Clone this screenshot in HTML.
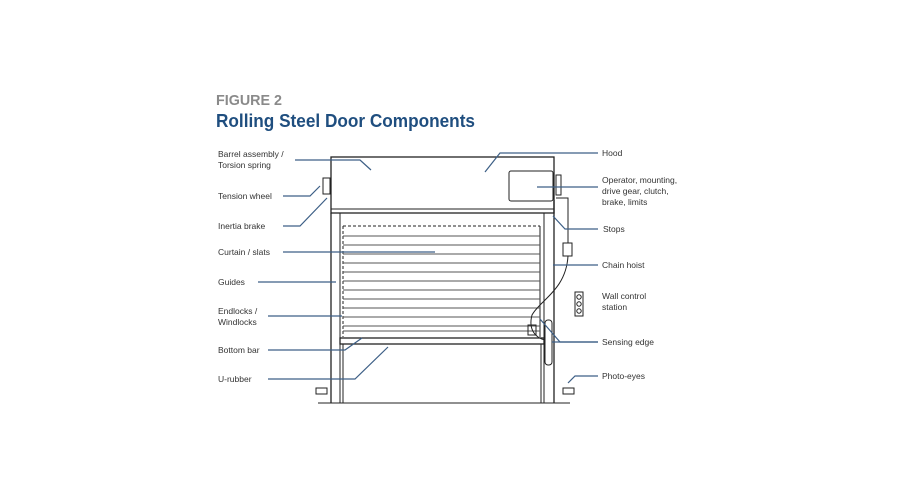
<!DOCTYPE html>
<html><head><meta charset="utf-8"><style>
html,body{margin:0;padding:0;background:#fff;}
svg{display:block}
text{font-family:"Liberation Sans",sans-serif;font-size:8.5px;fill:#333}
</style></head><body>
<svg width="900" height="500" viewBox="0 0 900 500" xmlns="http://www.w3.org/2000/svg">
<text x="216" y="105" textLength="66" lengthAdjust="spacingAndGlyphs" style="font-size:15px;font-weight:bold;fill:#8a8a8a">FIGURE 2</text>
<text x="216" y="127" textLength="259" lengthAdjust="spacingAndGlyphs" style="font-size:18px;font-weight:bold;fill:#1f4e7f">Rolling Steel Door Components</text>

<g fill="none" stroke="#222" stroke-width="1">
<rect x="331" y="157" width="223" height="56" stroke-width="1.3"/>
<line x1="331" y1="209" x2="554" y2="209"/>
<line x1="331" y1="213" x2="331" y2="403" stroke-width="1.3"/>
<line x1="340" y1="213" x2="340" y2="403"/>
<line x1="544" y1="213" x2="544" y2="403"/>
<line x1="554" y1="200" x2="554" y2="403" stroke-width="1.3"/>
<line x1="318" y1="403" x2="570" y2="403"/>
<line x1="343" y1="226" x2="540" y2="226" stroke-dasharray="3,2"/>
<line x1="343" y1="226" x2="343" y2="337" stroke-dasharray="3,2"/>
<line x1="540" y1="226" x2="540" y2="337"/>
<g stroke="#555">
<line x1="343" y1="236" x2="540" y2="236"/><line x1="343" y1="245" x2="540" y2="245"/>
<line x1="343" y1="254" x2="540" y2="254"/><line x1="343" y1="263" x2="540" y2="263"/>
<line x1="343" y1="272" x2="540" y2="272"/><line x1="343" y1="281" x2="540" y2="281"/>
<line x1="343" y1="290" x2="540" y2="290"/><line x1="343" y1="299" x2="540" y2="299"/>
<line x1="343" y1="308" x2="540" y2="308"/><line x1="343" y1="317" x2="540" y2="317"/>
<line x1="343" y1="326" x2="540" y2="326"/><line x1="343" y1="331" x2="540" y2="331"/>
</g>
<rect x="340" y="338" width="204" height="6" stroke-width="1.3"/>
<line x1="343" y1="344" x2="343" y2="403"/>
<line x1="541" y1="344" x2="541" y2="403"/>
<rect x="509" y="171" width="44" height="30" rx="2"/>
<rect x="556" y="175" width="5" height="20"/>
<rect x="323" y="178" width="7" height="16"/>
<path d="M556 198 H568 V243"/>
<rect x="563" y="243" width="9" height="13"/>
<path d="M568 256 C566 290 540 300 532 315 C528 330 536 338 545 340"/>
<rect x="545" y="320" width="7" height="45" rx="3"/>
<rect x="528" y="325" width="8" height="10"/>
<rect x="575" y="292" width="8" height="24"/>
<circle cx="579" cy="297" r="2.2"/><circle cx="579" cy="304" r="2.2"/><circle cx="579" cy="311" r="2.2"/>
<rect x="316" y="388" width="11" height="6"/>
<rect x="563" y="388" width="11" height="6"/>
</g>

<g fill="none" stroke="#3d5f86" stroke-width="1.2">
<path d="M295 160 H360 L371 170"/>
<path d="M598 153 H500 L485 172"/>
<path d="M283 196 H310 L320 186"/>
<path d="M283 226 H300 L327 198"/>
<path d="M283 252 H435"/>
<path d="M258 282 H336"/>
<path d="M268 316 H342"/>
<path d="M268 350 H345 L362 338"/>
<path d="M268 379 H355 L388 347"/>
<path d="M537 187 H598"/>
<path d="M598 229 H565 L553 216"/>
<path d="M598 265 H553"/>
<path d="M598 342 H560 L540 319"/>
<path d="M552 342 H598"/>
<path d="M598 376 H575 L568 383"/>
</g>

<text x="218" y="157">Barrel assembly /</text>
<text x="218" y="168">Torsion spring</text>
<text x="218" y="199">Tension wheel</text>
<text x="218" y="229">Inertia brake</text>
<text x="218" y="255">Curtain / slats</text>
<text x="218" y="285">Guides</text>
<text x="218" y="314">Endlocks /</text>
<text x="218" y="325">Windlocks</text>
<text x="218" y="353">Bottom bar</text>
<text x="218" y="382">U-rubber</text>
<text x="602" y="156">Hood</text>
<text x="602" y="183">Operator, mounting,</text>
<text x="602" y="194">drive gear, clutch,</text>
<text x="602" y="205">brake, limits</text>
<text x="603" y="232">Stops</text>
<text x="602" y="268">Chain hoist</text>
<text x="602" y="299">Wall control</text>
<text x="602" y="310">station</text>
<text x="602" y="345">Sensing edge</text>
<text x="602" y="379">Photo-eyes</text>
</svg>
</body></html>
